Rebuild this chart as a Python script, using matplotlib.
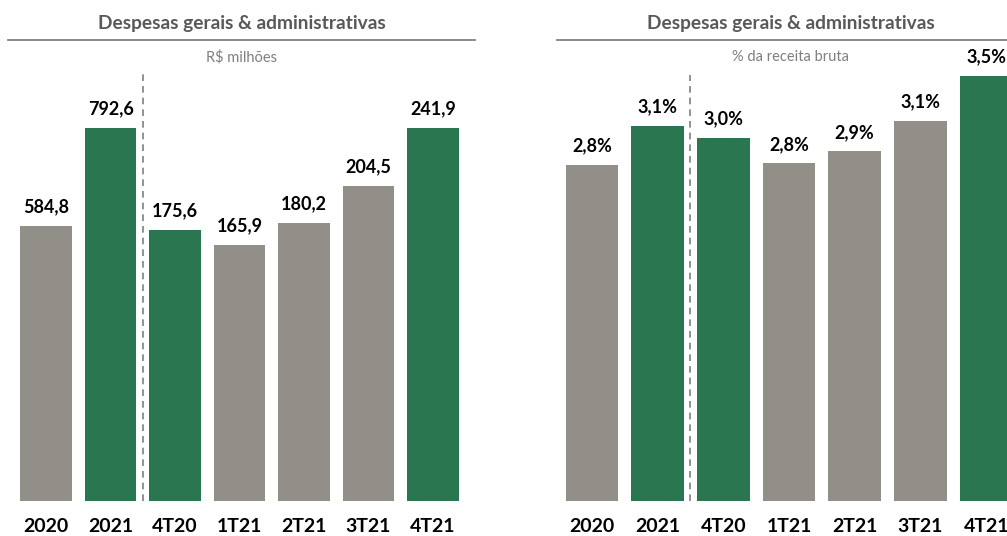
"""Despesas gerais & administrativas: R$ milhões e % da receita bruta."""

import matplotlib

matplotlib.use("Agg")

import matplotlib.pyplot as plt
from matplotlib.lines import Line2D
import numpy as np

plt.rcParams["font.family"] = ["Lato", "DejaVu Sans"]

categories = ["2020", "2021", "4T20", "1T21", "2T21", "3T21", "4T21"]
annual_brl = [584.8, 792.6]
quarterly_brl = [175.6, 165.9, 180.2, 204.5, 241.9]
pct_receita = [2.77, 3.09, 2.99, 2.78, 2.88, 3.13, 3.50]
bar_colors = ["gray", "green", "green", "gray", "gray", "gray", "green"]

GRAY = "#918f87"
GREEN = "#2a7650"
TITLE_GRAY = "#595959"
palette = {"gray": GRAY, "green": GREEN}

W, H = 1007, 536
fig = plt.figure(figsize=(W / 100, H / 100), dpi=100)


def px_axes(x0, y_top, x1, y_bottom):
    return fig.add_axes([x0 / W, 1 - y_bottom / H, (x1 - x0) / W, (y_bottom - y_top) / H])


def header(x0, x1, subtitle):
    xc = (x0 + x1) / 2 / W
    fig.text(xc, 1 - 23 / H, "Despesas gerais & administrativas", ha="center", va="center",
             fontsize=13.8, fontweight="bold", color=TITLE_GRAY)
    fig.add_artist(Line2D([x0 / W, x1 / W], [1 - 40 / H, 1 - 40 / H], color="#7f7f7f", lw=1.3))
    fig.text(xc, 1 - 57 / H, subtitle, ha="center", va="center", fontsize=10.5, color="#7f7f7f")


def style(ax, ymax, px_height):
    ax.set_xlim(-0.5, 6.5)
    ax.set_ylim(0, ymax)
    ax.axis("off")
    ax.axvline(1.5, ymin=0, ymax=1, color="#7f7f7f", lw=1.2, ls=(0, (4, 3)))
    for xi, cat in enumerate(categories):
        ax.text(xi, -25 / px_height * ymax, cat, ha="center", va="center", fontsize=14,
                fontweight="bold", color="black", clip_on=False)


x = np.arange(len(categories))

# left panel: annual and quarterly bars, each group scaled to its own maximum
header(8, 475, "R$ milhões")
ax1 = px_axes(14, 72, 465, 501)
left_vals = annual_brl + quarterly_brl
left_heights = [v / max(annual_brl) for v in annual_brl] + [v / max(quarterly_brl) for v in quarterly_brl]
top1 = (501 - 72) / (501 - 128)
style(ax1, top1, 501 - 72)
ax1.bar(x, left_heights, width=0.8, color=[palette[c] for c in bar_colors])
for xi, h, v in zip(x, left_heights, left_vals):
    ax1.text(xi, h + 19 / (501 - 72) * top1, f"{v:.1f}".replace(".", ","), ha="center", va="center",
             fontsize=13, fontweight="bold", color="black")

# right panel: % of gross revenue
header(557, 1025, "% da receita bruta")
ax2 = px_axes(559, 75, 1019, 501)
top2 = max(pct_receita) * (501 - 75) / (501 - 76)
style(ax2, top2, 501 - 75)
ax2.bar(x, pct_receita, width=0.8, color=[palette[c] for c in bar_colors])
for xi, v in zip(x, pct_receita):
    ax2.text(xi, v + 19 / (501 - 75) * top2, f"{v:.1f}%".replace(".", ","), ha="center", va="center",
             fontsize=13, fontweight="bold", color="black", clip_on=False)

fig.savefig("out.png", dpi=100)
